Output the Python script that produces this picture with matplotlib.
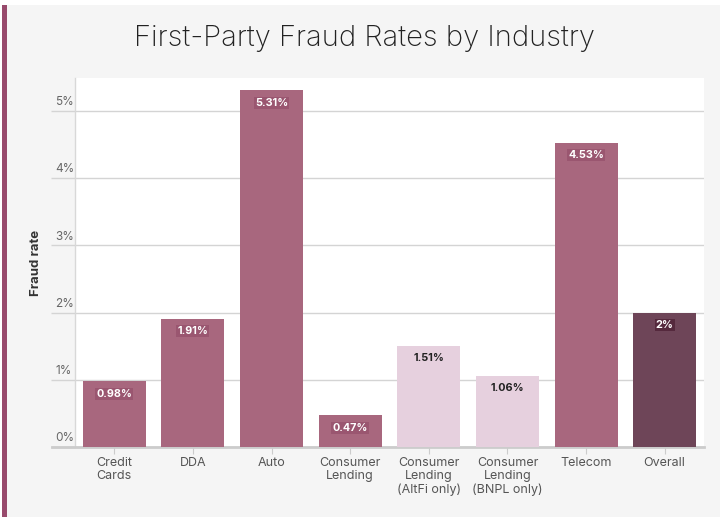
import matplotlib.pyplot as plt
from matplotlib.patches import Rectangle
from matplotlib.transforms import blended_transform_factory, offset_copy

categories = ['Credit\nCards', 'DDA', 'Auto', 'Consumer\nLending',
              'Consumer\nLending\n(AltFi only)', 'Consumer\nLending\n(BNPL only)',
              'Telecom', 'Overall']
rates = [0.98, 1.91, 5.31, 0.47, 1.51, 1.06, 4.53, 2.0]
labels = ['0.98%', '1.91%', '5.31%', '0.47%', '1.51%', '1.06%', '4.53%', '2%']
groups = ['main', 'main', 'main', 'main', 'light', 'light', 'main', 'overall']
y_ticks = [0, 1, 2, 3, 4, 5]

bar_colors = {'main': '#a8677e', 'light': '#e6d0de', 'overall': '#6e4558'}
box_colors = {'main': '#9a5670', 'light': '#e6d0de', 'overall': '#55293d'}
text_colors = {'main': 'white', 'light': '#222222', 'overall': 'white'}

plt.rcParams['font.family'] = ['Inter', 'DejaVu Sans']

fig = plt.figure(figsize=(7.25, 5.24), dpi=100, facecolor='white')

# gray card and left accent stripe
fig.patches.append(Rectangle((2 / 725, 7 / 524), 718 / 725, 512 / 524,
                             transform=fig.transFigure, facecolor='#f5f5f5',
                             edgecolor='none', zorder=-2))
fig.patches.append(Rectangle((2 / 725, 7 / 524), 5 / 725, 512 / 524,
                             transform=fig.transFigure, facecolor='#984a6c',
                             edgecolor='none', zorder=-1))

ax = fig.add_axes([75 / 725, 1 - 447 / 524, 629 / 725, 369 / 524])
ax.set_facecolor('white')

x = range(len(categories))
bars = ax.bar(x, rates, width=0.8, color=[bar_colors[g] for g in groups], zorder=3)

for bar, lab, g in zip(bars, labels, groups):
    ax.annotate(lab, (bar.get_x() + bar.get_width() / 2, bar.get_height()),
                xytext=(0, -9), textcoords='offset points', ha='center', va='center',
                fontsize=7.8, fontweight='bold', color=text_colors[g], zorder=4,
                bbox=dict(boxstyle='square,pad=0.1', facecolor=box_colors[g],
                          edgecolor='none'))

ax.set_xlim(-0.5, 7.5)
ax.set_ylim(0, 5.49)

ax.set_xticks(list(x))
ax.set_xticklabels(categories, fontsize=9, color='#555555', linespacing=1.15)
ax.tick_params(axis='x', length=5, color='#cccccc', pad=2)

ax.set_yticks(y_ticks)
ax.set_yticklabels([])
ax.tick_params(axis='y', length=17, width=1, color='#d4d4d4')
ax.grid(axis='y', color='#d4d4d4', linewidth=1, zorder=0)

trans = offset_copy(blended_transform_factory(ax.transAxes, ax.transData),
                    fig=fig, x=0, y=2, units='points')
for t in y_ticks:
    ax.text(-20 / 629, t, f'{t}%', transform=trans, ha='left', va='bottom',
            fontsize=8.5, color='#666666')

for side in ['top', 'right']:
    ax.spines[side].set_visible(False)
ax.spines['left'].set_color('#d8d8d8')
ax.spines['left'].set_linewidth(1)
ax.spines['bottom'].set_color('#cccccc')
ax.spines['bottom'].set_linewidth(2)
ax.spines['bottom'].set_bounds(-0.5 - 23 / 629 * 8, 7.5)
ax.spines['bottom'].set_clip_on(False)

ax.set_ylabel('Fraud rate', fontsize=9.5, fontweight='bold', color='#333333')
ax.yaxis.set_label_coords(-33 / 629, 0.5)

fig.text(0.503, 1 - 39 / 524, 'First-Party Fraud Rates by Industry', ha='center',
         va='center', fontsize=21, fontweight='light', color='#222222')

fig.savefig('out.png', dpi=100, facecolor=fig.get_facecolor())
